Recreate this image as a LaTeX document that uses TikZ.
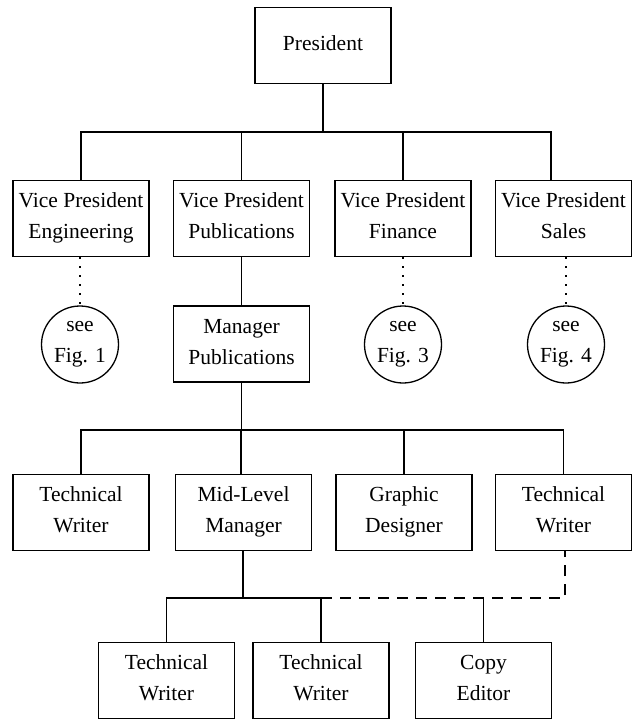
\documentclass[tikz,border=0pt]{standalone}
\usepackage{fontspec}
\setmainfont{Liberation Serif}
\newcommand{\lastln}{\rule[-5pt]{0pt}{5pt}}
\begin{document}
\begin{tikzpicture}[x=1pt,y=-1pt,
  box/.style={draw, line width=1.3pt, minimum width=136pt, minimum height=76pt,
    inner sep=2pt, align=center, font=\fontsize{21.5pt}{31pt}\selectfont},
  figref/.style={draw, circle, line width=1.3pt, minimum size=77pt, inner sep=0pt,
    align=center, font=\fontsize{21.5pt}{31pt}\selectfont},
  conn/.style={line width=1.2pt},
  dotline/.style={line width=1.6pt, dash pattern=on 1.6pt off 7.4pt},
  dashline/.style={line width=1.2pt, dash pattern=on 11pt off 8pt}]
\useasboundingbox (0,0) rectangle (632,720);

% nodes
\node[box] (pres) at (323,45.5) {President\lastln};

\node[box] (vpE) at (81,218.5)    {Vice President\\Engineering\lastln};
\node[box] (vpP) at (241.5,218.5) {Vice President\\Publications\lastln};
\node[box] (vpF) at (403,218.5)   {Vice President\\Finance\lastln};
\node[box] (vpS) at (563.5,218.5) {Vice President\\Sales\lastln};

\node[figref] (fE) at (80,344.5)  {see\\Fig. 1};
\node[figref] (fF) at (403,344.5) {see\\Fig. 3};
\node[figref] (fS) at (566,344.5) {see\\Fig. 4};

\node[box] (mgr) at (241.5,344) {Manager\\Publications\lastln};

\node[box] (tw1) at (81,512.5)    {Technical\\Writer\lastln};
\node[box] (mlm) at (243.5,512.5) {Mid-Level\\Manager\lastln};
\node[box] (gd)  at (404,512.5)   {Graphic\\Designer\lastln};
\node[box] (tw4) at (563.5,512.5) {Technical\\Writer\lastln};

\node[box] (tw5) at (166.5,680.5) {Technical\\Writer\lastln};
\node[box] (tw6) at (321,680.5)   {Technical\\Writer\lastln};
\node[box] (ce)  at (483.5,680.5) {Copy\\Editor\lastln};

% junction levels
\coordinate (barA) at (322,132);
\coordinate (barB) at (241,430);
\coordinate (barC) at (243,598);

% President to vice presidents
\draw[conn] (pres.south) -- (pres.south |- barA);
\draw[conn] (vpE.north) -- (vpE.north |- barA)
  -- ([xshift=-12.5pt]vpS.north |- barA) -- ([xshift=-12.5pt]vpS.north);
\draw[conn] (vpP.north) -- (vpP.north |- barA);
\draw[conn] (vpF.north) -- (vpF.north |- barA);

% dotted references
\draw[dotline] (vpE.south -| fE.north) -- (fE.north);
\draw[dotline] (vpF.south -| fF.north) -- (fF.north);
\draw[dotline] (vpS.south -| fS.north) -- (fS.north);

% publications branch
\draw[conn] (vpP.south) -- (mgr.north);
\draw[conn] (mgr.south) -- (mgr.south |- barB);
\draw[conn] (tw1.north) -- (tw1.north |- barB)
  -- (tw4.north |- barB) -- (tw4.north);
\draw[conn] (mlm.north -| barB) -- (barB);
\draw[conn] (gd.north) -- (gd.north |- barB);

% mid-level manager branch
\draw[conn] (mlm.south -| barC) -- (barC);
\draw[conn] (tw5.north) -- (tw5.north |- barC) -- (tw6.north |- barC) -- (tw6.north);
\draw[conn] (ce.north) -- (ce.north |- barC);
\draw[dashline] (tw6.north |- barC) -- ([xshift=1.5pt]tw4.south |- barC)
  -- ([xshift=1.5pt]tw4.south);
\end{tikzpicture}
\end{document}
